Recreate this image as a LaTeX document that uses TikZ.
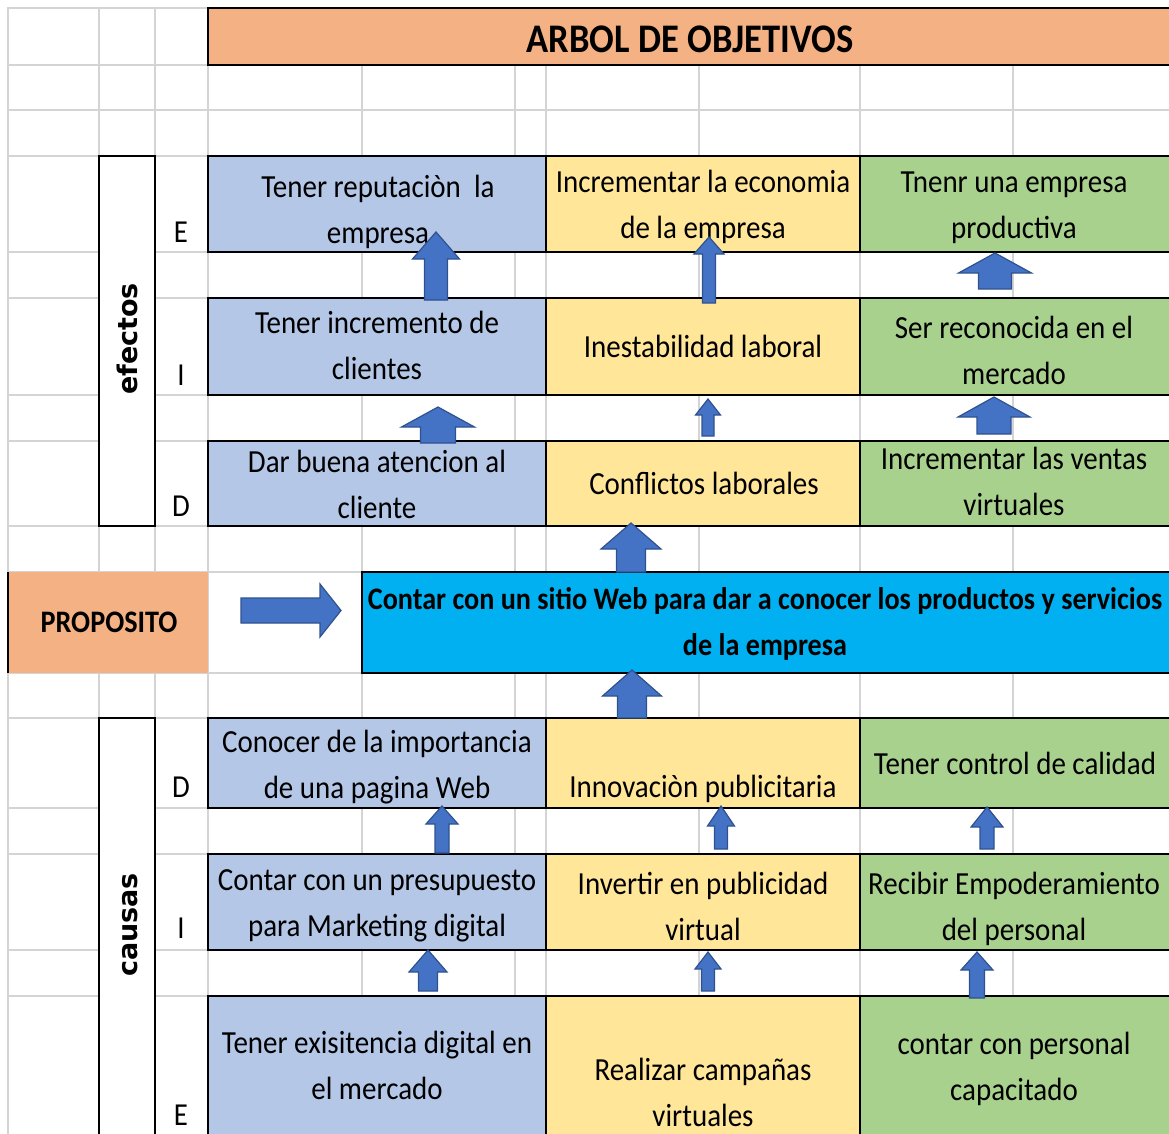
\documentclass[tikz,border=0pt]{standalone}
\usepackage{fontspec}
\setmainfont{Carlito}[FakeStretch=0.9]
\newfontfamily\lblfont{DejaVu Sans}
\definecolor{orangeT}{HTML}{F4B183}
\definecolor{blueC}{HTML}{B4C7E7}
\definecolor{yellowC}{HTML}{FFE699}
\definecolor{greenC}{HTML}{A9D18E}
\definecolor{cyanC}{HTML}{00B0F0}
\definecolor{arrFill}{HTML}{4472C4}
\definecolor{arrLine}{HTML}{2F528F}
\definecolor{gridC}{HTML}{D4D4D4}
\newcommand\UpArr[6]{% cx, tip, headbase, bottom, shaftw, headw
  \filldraw[blockarr] ({#1-#5/2},#4) -- ({#1-#5/2},#3) -- ({#1-#6/2},#3) -- (#1,#2)
    -- ({#1+#6/2},#3) -- ({#1+#5/2},#3) -- ({#1+#5/2},#4) -- cycle;}
\begin{document}
\begin{tikzpicture}[x=1pt,y=-1pt,
  gridline/.style={draw=gridC,line width=1.8pt},
  box/.style={draw=black,line width=2.2pt,anchor=north west,inner sep=0pt,outer sep=0pt},
  plainbox/.style={draw=none,anchor=north west,inner sep=0pt,outer sep=0pt},
  txt/.style={font=\fontsize{32.2}{46}\selectfont,inner sep=0pt,anchor=base,align=center},
  boldtxt/.style={font=\fontsize{31.3}{46}\selectfont\bfseries,inner sep=0pt,anchor=base,align=center},
  lettertxt/.style={font=\fontsize{32}{46}\selectfont,inner sep=0pt,anchor=base},
  sidetxt/.style={font=\lblfont\bfseries\fontsize{27}{30}\selectfont,inner sep=0pt,rotate=90,anchor=base},
  blockarr/.style={fill=arrFill,draw=arrLine,line width=1.2pt,line join=miter}]
\useasboundingbox (0,0) rectangle (1169,1133);
\clip (0,0) rectangle (1169,1133);
% spreadsheet grid
\foreach \gx in {8,99,155,208,362,515,546,699,860,1013}
  \draw[gridline] (\gx,7) -- (\gx,1140);
\foreach \gy in {8,65,110,156,252,298,395,441,526,572,673,718,808,854,950,996}
  \draw[gridline] (7,\gy) -- (1175,\gy);
% title
\node[box,fill=orangeT,minimum width=970pt,minimum height=57pt] (title) at (208,8) {};
\node[font=\fontsize{40.6}{46}\selectfont\bfseries,inner sep=0pt,anchor=base] (titletxt) at (690,52) {ARBOL DE OBJETIVOS};
% side label boxes
\node[box,fill=white,minimum width=56pt,minimum height=370pt] (efbox) at (99,156) {};
\node[box,fill=white,minimum width=56pt,minimum height=430pt] (cabox) at (99,718) {};
\node[sidetxt] (eflbl) at (137,339) {efectos};
\node[sidetxt] (calbl) at (137,925) {causas};
% effects boxes
\node[box,fill=blueC,minimum width=338pt,minimum height=96pt] (b1) at (208,156) {};
\node[box,fill=yellowC,minimum width=314pt,minimum height=96pt] (y1) at (546,156) {};
\node[box,fill=greenC,minimum width=320pt,minimum height=96pt] (g1) at (860,156) {};
\node[box,fill=blueC,minimum width=338pt,minimum height=97pt] (b2) at (208,298) {};
\node[box,fill=yellowC,minimum width=314pt,minimum height=97pt] (y2) at (546,298) {};
\node[box,fill=greenC,minimum width=320pt,minimum height=97pt] (g2) at (860,298) {};
\node[box,fill=blueC,minimum width=338pt,minimum height=85pt] (b3) at (208,441) {};
\node[box,fill=yellowC,minimum width=314pt,minimum height=85pt] (y3) at (546,441) {};
\node[box,fill=greenC,minimum width=320pt,minimum height=85pt] (g3) at (860,441) {};
% proposito
\node[plainbox,fill=orangeT,minimum width=200pt,minimum height=101pt] (prop) at (8,572) {};
\draw[line width=2.2pt] (prop.north west) -- (prop.south west);
\node[plainbox,fill=white,minimum width=153pt,minimum height=99pt] (propgap) at (209,573) {};
\node[box,fill=cyanC,minimum width=820pt,minimum height=101pt] (goal) at (362,572) {};
\node[boldtxt] (proptxt) at (109,632) {PROPOSITO};
\node[boldtxt] (goaltxt) at (765,655) {Contar con un sitio Web para dar a conocer los productos y servicios\\de la empresa};
% causes boxes
\node[box,fill=blueC,minimum width=338pt,minimum height=90pt] (b4) at (208,718) {};
\node[box,fill=yellowC,minimum width=314pt,minimum height=90pt] (y4) at (546,718) {};
\node[box,fill=greenC,minimum width=320pt,minimum height=90pt] (g4) at (860,718) {};
\node[box,fill=blueC,minimum width=338pt,minimum height=96pt] (b5) at (208,854) {};
\node[box,fill=yellowC,minimum width=314pt,minimum height=96pt] (y5) at (546,854) {};
\node[box,fill=greenC,minimum width=320pt,minimum height=96pt] (g5) at (860,854) {};
\node[box,fill=blueC,minimum width=338pt,minimum height=150pt] (b6) at (208,996) {};
\node[box,fill=yellowC,minimum width=314pt,minimum height=150pt] (y6) at (546,996) {};
\node[box,fill=greenC,minimum width=320pt,minimum height=150pt] (g6) at (860,996) {};
% row letters
\node[lettertxt] (lE1) at (181,242) {E};
\node[lettertxt] (lI1) at (181,385) {I};
\node[lettertxt] (lD1) at (181,516) {D};
\node[lettertxt] (lD2) at (181,797) {D};
\node[lettertxt] (lI2) at (181,938) {I};
\node[lettertxt] (lE2) at (181,1125) {E};
% effects texts (anchor = baseline of last line)
\node[txt] (tb1) at (378,243) {Tener reputaciòn~ la\\empresa};
\node[txt] (ty1) at (703,238) {Incrementar la economia\\de la empresa};
\node[txt] (tg1) at (1014,238) {Tnenr una empresa\\productiva};
\node[txt] (tb2) at (377,379) {Tener incremento de\\clientes};
\node[txt] (ty2) at (703,357) {Inestabilidad laboral};
\node[txt] (tg2) at (1014,384) {Ser reconocida en el\\mercado};
\node[txt] (tb3) at (377,518) {Dar buena atencion al\\cliente};
\node[txt] (ty3) at (704,494) {Conflictos laborales};
\node[txt] (tg3) at (1014,515) {Incrementar las ventas\\virtuales};
% causes texts
\node[txt] (tb4) at (377,798) {Conocer de la importancia\\de una pagina Web};
\node[txt] (ty4) at (703,797) {Innovaciòn publicitaria};
\node[txt] (tg4) at (1015,774) {Tener control de calidad};
\node[txt] (tb5) at (377,936) {Contar con un presupuesto\\para Marketing digital};
\node[txt] (ty5) at (703,940) {Invertir en publicidad\\virtual};
\node[txt] (tg5) at (1014,940) {Recibir Empoderamiento\\del personal};
\node[txt] (tb6) at (377,1099) {Tener exisitencia digital en\\el mercado};
\node[txt] (ty6) at (703,1126) {Realizar campañas\\virtuales};
\node[txt] (tg6) at (1014,1100) {contar con personal\\capacitado};
% block arrows
\UpArr{436}{232}{259}{300}{23}{47}
\UpArr{709}{237}{254}{303}{13}{30}
\UpArr{995}{253}{273}{289}{33}{73}
\UpArr{438}{407}{427}{443}{35}{73}
\UpArr{708}{399}{415}{436}{12}{25}
\UpArr{994}{397}{417}{434}{34}{72}
\UpArr{631}{523}{549}{572}{29}{60}
\UpArr{632}{670}{696}{718}{29}{59}
\UpArr{442}{806}{824}{853}{14}{32}
\UpArr{428}{950}{972}{991}{19}{38}
\UpArr{721}{806}{826}{849}{13}{27}
\UpArr{987}{807}{827}{849}{14}{32}
\UpArr{708}{952}{969}{991}{13}{26}
\UpArr{977}{952}{970}{998}{15}{32}
\filldraw[blockarr] (241,598) -- (320,598) -- (320,584) -- (341,610.5) -- (320,637) -- (320,623) -- (241,623) -- cycle;
\end{tikzpicture}
\end{document}
